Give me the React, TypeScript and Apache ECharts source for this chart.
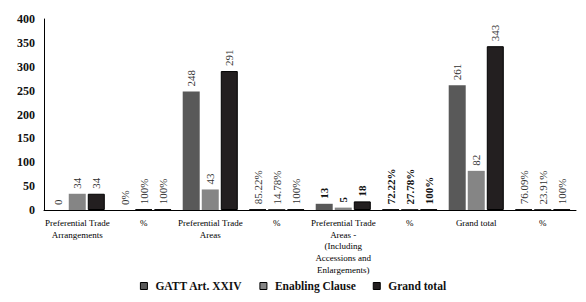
import React, { useEffect, useRef } from "react";
import * as echarts from "echarts";

const categories = [
  "Preferential Trade\nArrangements",
  "%",
  "Preferential Trade\nAreas",
  "%",
  "Preferential Trade\nAreas -\n(Including\nAccessions and\nEnlargements)",
  "%",
  "Grand total",
  "%",
];
const percentCategory = [false, true, false, true, false, true, false, true];
const boldLabelCategory = [false, false, false, false, true, true, false, false];
const seriesNames = ["GATT Art. XXIV", "Enabling Clause", "Grand total"];
const gattValues = [0, 0, 248, 0.8522, 13, 0.7222, 261, 0.7609];
const enablingValues = [34, 1, 43, 0.1478, 5, 0.2778, 82, 0.2391];
const grandTotalValues = [34, 1, 291, 1, 18, 1, 343, 1];
const yMin = 0;
const yMax = 400;
const yInterval = 50;

const FONT = "'Liberation Serif', 'Times New Roman', serif";

function formatValue(v: number, isPct: boolean): string {
  if (isPct) {
    let s = (v * 100).toFixed(2);
    s = s.replace(/\.00$/, "");
    return s + "%";
  }
  return String(v);
}

export default function App() {
  const ref = useRef<HTMLDivElement>(null);
  useEffect(() => {
    document.body.style.margin = "0";
    if (!ref.current) return;
    const chart = echarts.init(ref.current, undefined, { renderer: "svg" });
    const colors = ["#595959", "#858585", "#231f20"];
    const allValues = [gattValues, enablingValues, grandTotalValues];
    const series = allValues.map((vals, si) => ({
      name: seriesNames[si],
      type: "bar",
      barWidth: 17,
      barGap: "12%",
      itemStyle: { color: colors[si] },
      data: vals.map((v, i) => {
        const item: any = { value: v };
        if (percentCategory[i]) {
          item.itemStyle = {
            color: "#000",
            borderColor: "#000",
            borderWidth: v > 0 ? 1 : 0,
          };
        } else if (si === 2) {
          item.itemStyle = { color: colors[si], borderColor: "#000", borderWidth: 1 };
        }
        if (boldLabelCategory[i]) {
          item.label = { fontWeight: "bold", color: "#111" };
        }
        return item;
      }),
      label: {
        show: true,
        position: "top",
        rotate: 90,
        align: "left",
        verticalAlign: "middle",
        distance: 5,
        fontSize: 11,
        fontFamily: FONT,
        color: "#333",
        formatter: (p: any) => formatValue(p.value, percentCategory[p.dataIndex]),
      },
    }));
    chart.setOption({
      animation: false,
      backgroundColor: "#fff",
      grid: { left: 44, right: 10, top: 19, bottom: 92, containLabel: false },
      legend: {
        top: 275,
        left: "center",
        icon: "rect",
        itemWidth: 7,
        itemHeight: 7,
        itemGap: 17,
        itemStyle: { borderColor: "#000", borderWidth: 1 },
        textStyle: {
          fontFamily: FONT,
          fontWeight: "bold",
          fontSize: 11.5,
          color: "#111",
          padding: [0, 0, 0, 3],
        },
        data: seriesNames,
      },
      xAxis: {
        type: "category",
        data: categories,
        axisLine: { lineStyle: { color: "#000", width: 1 } },
        axisTick: { show: false },
        axisLabel: {
          interval: 0,
          fontFamily: FONT,
          fontSize: 9,
          lineHeight: 11.7,
          color: "#000",
          margin: 7,
          verticalAlign: "top",
        },
      },
      yAxis: {
        type: "value",
        min: yMin,
        max: yMax,
        interval: yInterval,
        axisLine: { show: true, lineStyle: { color: "#000", width: 1 } },
        axisTick: { show: false },
        splitLine: { show: false },
        axisLabel: {
          fontFamily: FONT,
          fontSize: 12,
          fontWeight: "bold",
          color: "#111",
          margin: 9,
        },
      },
      series,
    });
    return () => chart.dispose();
  }, []);
  return <div ref={ref} style={{ width: 586, height: 302 }} />;
}
